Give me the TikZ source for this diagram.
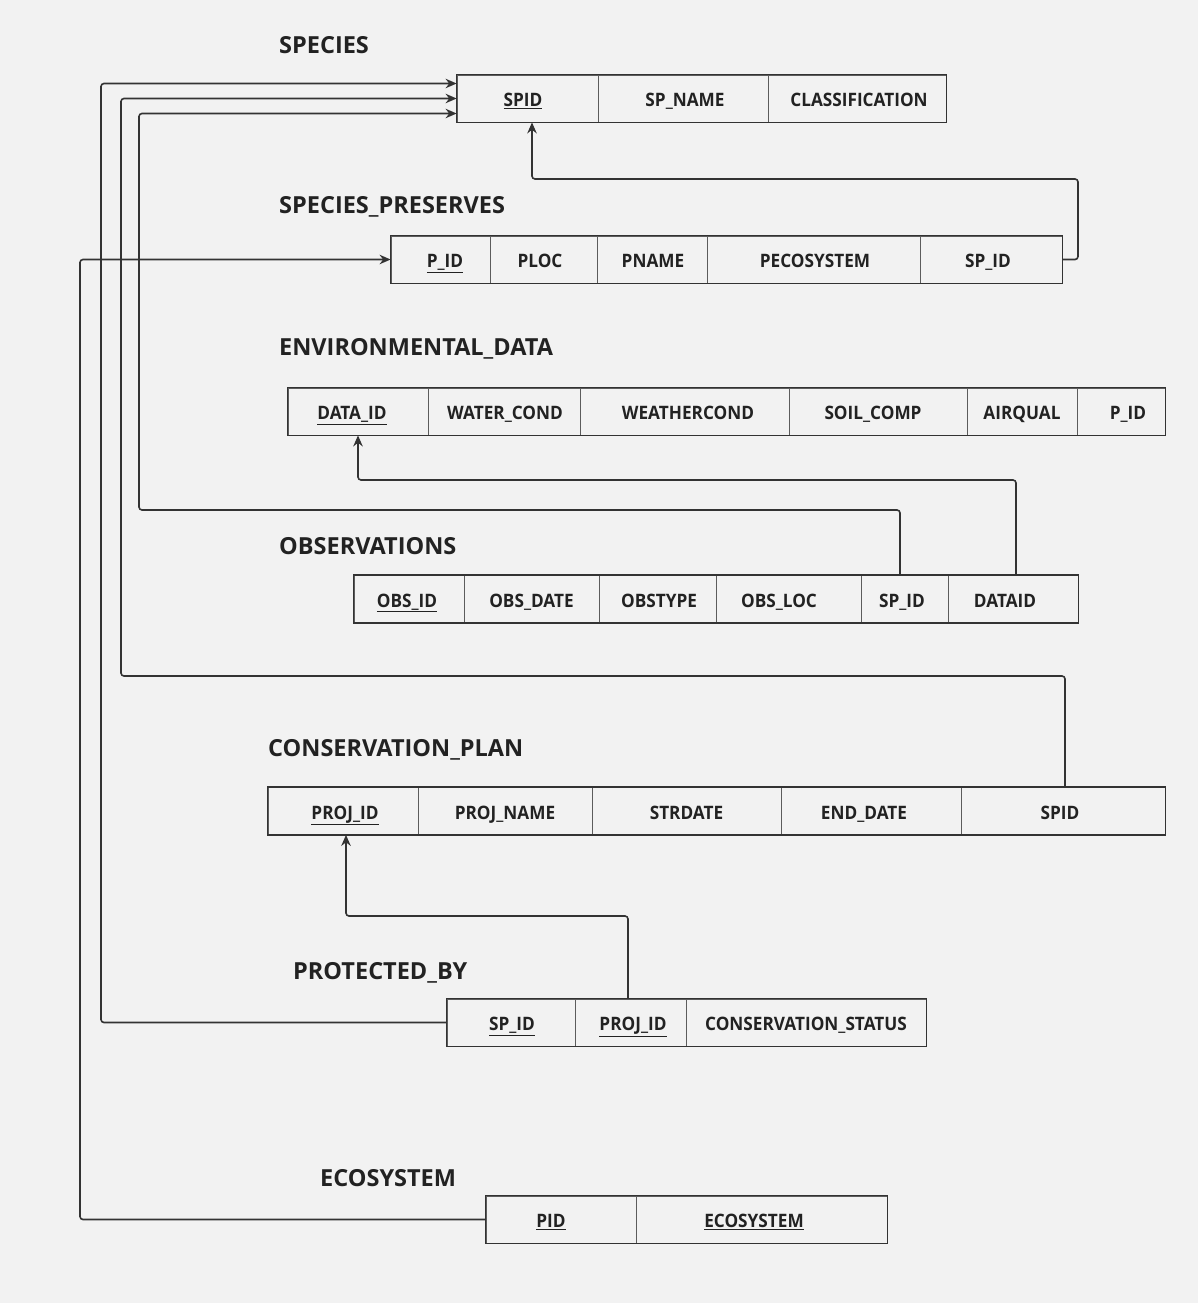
\documentclass[tikz,border=0pt]{standalone}
\usepackage{fontspec}
\setmainfont{Open Sans}
\newfontfamily\cellfont[FakeStretch=0.93]{Open Sans}
\usetikzlibrary{arrows.meta}
\definecolor{bgc}{HTML}{F2F2F2}
\definecolor{ink}{HTML}{333333}
\definecolor{txt}{HTML}{222222}
\tikzset{
  fieldcell/.style={draw=ink!80, line width=0.8pt, inner sep=0pt, minimum height=47pt},
  celltext/.style={inner sep=0pt, text height=17pt, text depth=1pt,
    font=\cellfont\bfseries\fontsize{18.5}{20}\selectfont, text=txt},
  frame/.style={draw=ink, line width=1.6pt},
  tabletitle/.style={anchor=west, inner sep=0pt, font=\bfseries\fontsize{23.5}{26}\selectfont, text=txt},
  conn/.style={draw=ink, line width=1.6pt, rounded corners=3pt, -{Stealth[length=11pt,width=9.5pt]}}
}
% field cell: [text offset], name, left x, right x, centre y, text
\newcommand\fld[6][0]{%
  \node[fieldcell, minimum width={#4-#3}] (#2) at ({(#3+#4)/2},#5) {};
  \node[celltext] (#2-t) at ([xshift=#1pt]#2.center) {#6};}
\newcommand\pk[1]{\underline{#1}}
\begin{document}
\begin{tikzpicture}[x=1pt,y=-1pt]
\fill[bgc] (0,0) rectangle (1198,1303);
\useasboundingbox (0,0) rectangle (1198,1303);

% SPECIES
\node[tabletitle] (tsp) at (279,45.5) {SPECIES};
\fld[-4.5]{spid}{457}{598}{98.5}{\pk{SPID}}
\fld[2]{spname}{598}{768}{98.5}{SP\_NAME}
\fld[2]{spclass}{768}{946}{98.5}{CLASSIFICATION}
\draw[frame] (spid.north west) rectangle (spclass.south east);

% SPECIES_PRESERVES
\node[tabletitle] (tpr) at (279,206.5) {SPECIES\_PRESERVES};
\fld[4.5]{prpid}{391}{490}{259.5}{\pk{P\_ID}}
\fld[-3.5]{prloc}{490}{597}{259.5}{PLOC}
\fld[1]{prname}{597}{707}{259.5}{PNAME}
\fld[1.5]{preco}{707}{920}{259.5}{PECOSYSTEM}
\fld[-3]{prsp}{920}{1062}{259.5}{SP\_ID}
\draw[frame] (prpid.north west) rectangle (prsp.south east);

% ENVIRONMENTAL_DATA
\node[tabletitle] (ten) at (279,348.5) {ENVIRONMENTAL\_DATA};
\fld[-6]{endid}{288}{428}{411.5}{\pk{DATA\_ID}}
\fld[1]{enwater}{428}{580}{411.5}{WATER\_COND}
\fld[3.5]{enweather}{580}{789}{411.5}{WEATHERCOND}
\fld[-5]{ensoil}{789}{967}{411.5}{SOIL\_COMP}
\fld[0]{enair}{967}{1077}{411.5}{AIRQUAL}
\fld[7]{enpid}{1077}{1165}{411.5}{P\_ID}
\draw[frame] (endid.north west) rectangle (enpid.south east);

% OBSERVATIONS
\node[tabletitle] (tob) at (279,546.5) {OBSERVATIONS};
\fld[-2]{obid}{354}{464}{599}{\pk{OBS\_ID}}
\fld[0]{obdate}{464}{599}{599}{OBS\_DATE}
\fld[1.5]{obtype}{599}{716}{599}{OBSTYPE}
\fld[-9.5]{obloc}{716}{861}{599}{OBS\_LOC}
\fld[-2.5]{obsp}{861}{948}{599}{SP\_ID}
\fld[-8]{obdata}{948}{1078}{599}{DATAID}
\draw[frame] (obid.north west) rectangle (obdata.south east);

% CONSERVATION_PLAN
\node[tabletitle] (tcp) at (268,749.5) {CONSERVATION\_PLAN};
\fld[2]{cpid}{268}{418}{811}{\pk{PROJ\_ID}}
\fld[0]{cpname}{418}{592}{811}{PROJ\_NAME}
\fld[0]{cpstart}{592}{781}{811}{STRDATE}
\fld[-7]{cpend}{781}{961}{811}{END\_DATE}
\fld[-3]{cpsp}{961}{1165}{811}{SPID}
\draw[frame] (cpid.north west) rectangle (cpsp.south east);

% PROTECTED_BY
\node[tabletitle] (tpb) at (293,972.5) {PROTECTED\_BY};
\fld[1]{pbsp}{447}{575}{1022.5}{\pk{SP\_ID}}
\fld[2.5]{pbproj}{575}{686}{1022.5}{\pk{PROJ\_ID}}
\fld[0]{pbstat}{686}{926}{1022.5}{CONSERVATION\_STATUS}
\draw[frame] (pbsp.north west) rectangle (pbstat.south east);

% ECOSYSTEM
\node[tabletitle] (tec) at (320,1178.5) {ECOSYSTEM};
\fld[-10]{ecpid}{486}{636}{1219.5}{\pk{PID}}
\fld[-7.5]{ececo}{636}{887}{1219.5}{\pk{ECOSYSTEM}}
\draw[frame] (ecpid.north west) rectangle (ececo.south east);

% foreign keys
\draw[conn] (pbsp.west) -- (101,1022.5) -- (101,83.5) -- ([yshift=15pt]spid.west);
\draw[conn] ([xshift=2pt]cpsp.north) -- (1065,676) -- (121,676) -- (121,98.5) -- (spid.west);
\draw[conn] ([xshift=-4.5pt]obsp.north) -- (900,510) -- (139,510) -- (139,113.5) -- ([yshift=-15pt]spid.west);
\draw[conn] (prsp.east) -- (1078,259.5) -- (1078,179) -- (532,179) -- ([xshift=4.5pt]spid.south);
\draw[conn] (ecpid.west) -- (80,1219.5) -- (80,259.5) -- (prpid.west);
\draw[conn] ([xshift=3pt]obdata.north) -- (1016,480) -- (358,480) -- (endid.south);
\draw[conn] ([xshift=-2.5pt]pbproj.north) -- (628,916) -- (346,916) -- ([xshift=3pt]cpid.south);
\end{tikzpicture}
\end{document}
